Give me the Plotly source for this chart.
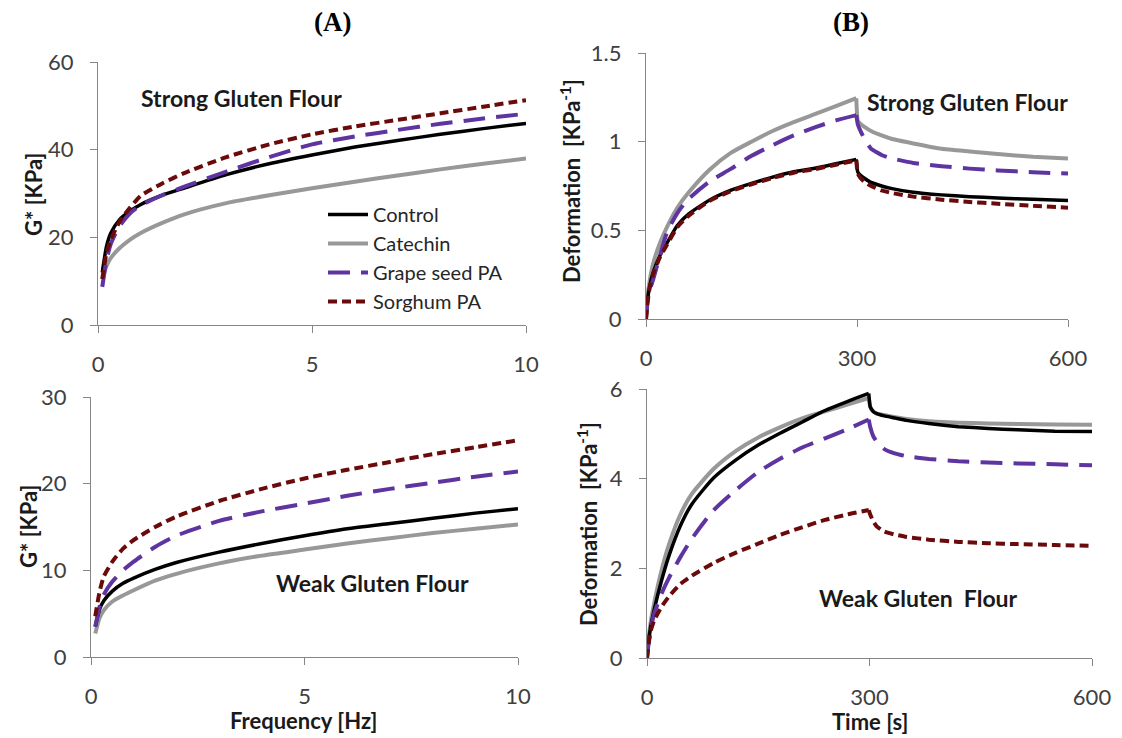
import plotly.graph_objects as go

# ---------------- data ----------------
freq = [0.1, 0.2, 0.3, 0.5, 0.75, 1, 1.5, 2, 3, 4, 5, 6, 7, 8, 9, 10]

strong_g_control = [12, 18, 21, 24, 26, 27.5, 29.6, 31.2, 34.3, 36.8, 38.8, 40.6, 42.1, 43.5, 44.8, 46.0]
strong_g_catechin = [10.5, 13.5, 15.3, 17.5, 19.5, 21, 23.3, 25.2, 27.8, 29.6, 31.2, 32.7, 34.1, 35.5, 36.8, 38.0]
strong_g_grape = [8.7, 14.8, 18.5, 22.5, 25.5, 27.3, 29.6, 31.5, 35.0, 38.3, 41.2, 43.0, 44.5, 45.9, 47.1, 48.2]
strong_g_sorghum = [10.5, 16.5, 19.5, 23.5, 26.8, 29.5, 32.3, 34.6, 38.3, 41.2, 43.5, 45.3, 46.8, 48.3, 49.8, 51.3]

weak_g_control = [3.5, 5.5, 6.5, 7.6, 8.5, 9.1, 10.1, 10.9, 12.1, 13.1, 14.0, 14.8, 15.4, 16.0, 16.6, 17.1]
weak_g_catechin = [2.7, 4.5, 5.4, 6.4, 7.1, 7.7, 8.8, 9.6, 10.8, 11.7, 12.4, 13.1, 13.7, 14.3, 14.8, 15.3]
weak_g_grape = [3.5, 5.8, 7.2, 8.7, 10.0, 11.0, 12.7, 14.0, 15.7, 16.8, 17.7, 18.6, 19.4, 20.1, 20.8, 21.4]
weak_g_sorghum = [4.7, 7.5, 9.3, 11.0, 12.5, 13.5, 15.0, 16.2, 18.0, 19.4, 20.6, 21.6, 22.5, 23.4, 24.2, 25.0]

time_s = [0, 2, 5, 10, 20, 30, 45, 60, 90, 120, 150, 180, 210, 240, 270, 299,
          301, 305, 310, 320, 335, 350, 380, 420, 460, 500, 550, 600]

strong_d_control = [0, 0.10, 0.18, 0.26, 0.36, 0.43, 0.53, 0.59, 0.67, 0.725, 0.765, 0.80, 0.83, 0.85, 0.875, 0.90,
                    0.83, 0.81, 0.795, 0.77, 0.75, 0.735, 0.715, 0.70, 0.69, 0.682, 0.675, 0.668]
strong_d_catechin = [0, 0.12, 0.21, 0.31, 0.43, 0.52, 0.63, 0.71, 0.84, 0.935, 1.0, 1.06, 1.11, 1.155, 1.20, 1.245,
                     1.12, 1.10, 1.085, 1.06, 1.035, 1.015, 0.99, 0.96, 0.945, 0.93, 0.915, 0.905]
strong_d_grape = [0, 0.09, 0.16, 0.22, 0.36, 0.49, 0.60, 0.675, 0.775, 0.845, 0.92, 0.98, 1.035, 1.08, 1.12, 1.15,
                  1.10, 1.06, 1.02, 0.96, 0.925, 0.905, 0.88, 0.862, 0.848, 0.838, 0.828, 0.82]
strong_d_sorghum = [0, 0.09, 0.17, 0.25, 0.35, 0.42, 0.52, 0.58, 0.665, 0.72, 0.76, 0.795, 0.825, 0.845, 0.87, 0.895,
                    0.82, 0.795, 0.775, 0.75, 0.725, 0.71, 0.69, 0.673, 0.66, 0.65, 0.638, 0.628]

weak_d_control = [0, 0.35, 0.7, 1.1, 1.75, 2.3, 2.95, 3.42, 4.02, 4.42, 4.75, 5.02, 5.27, 5.52, 5.72, 5.9,
                  5.6, 5.5, 5.45, 5.4, 5.35, 5.3, 5.23, 5.16, 5.12, 5.09, 5.06, 5.05]
weak_d_catechin = [0, 0.4, 0.8, 1.25, 1.98, 2.55, 3.2, 3.65, 4.22, 4.62, 4.92, 5.15, 5.35, 5.5, 5.65, 5.8,
                   5.6, 5.5, 5.45, 5.42, 5.37, 5.33, 5.28, 5.25, 5.23, 5.22, 5.21, 5.2]
weak_d_grape = [0, 0.3, 0.65, 1.0, 1.45, 1.8, 2.25, 2.65, 3.3, 3.75, 4.15, 4.45, 4.7, 4.9, 5.1, 5.32,
                5.15, 4.95, 4.82, 4.66, 4.56, 4.50, 4.44, 4.39, 4.36, 4.34, 4.32, 4.30]
weak_d_sorghum = [0, 0.3, 0.6, 0.85, 1.15, 1.38, 1.65, 1.83, 2.12, 2.35, 2.55, 2.75, 2.92, 3.08, 3.2, 3.3,
                  3.2, 3.05, 2.93, 2.82, 2.75, 2.70, 2.64, 2.59, 2.56, 2.54, 2.52, 2.50]

series_names = ["Control", "Catechin", "Grape seed PA", "Sorghum PA"]

# ---------------- styles ----------------
styles = [
    dict(color="#000000", width=3.5, dash="solid"),
    dict(color="#989898", width=4, dash="solid"),
    dict(color="#5E35A0", width=4, dash="22px,11px"),
    dict(color="#6B0A0A", width=4, dash="9px,5px"),
]

W, H = 1122, 738
FONT = "Lato, 'Open Sans', sans-serif"
TICKC = "#404040"
AXC = "#868686"


def px_x(p):
    return p / W


def px_y(p):
    return 1 - p / H


fig = go.Figure()

panels = [
    ("x", "y", freq, [strong_g_control, strong_g_catechin, strong_g_grape, strong_g_sorghum], False),
    ("x2", "y2", time_s, [strong_d_control, strong_d_catechin, strong_d_grape, strong_d_sorghum], True),
    ("x3", "y3", freq, [weak_g_control, weak_g_catechin, weak_g_grape, weak_g_sorghum], False),
    ("x4", "y4", time_s, [weak_d_control, weak_d_catechin, weak_d_grape, weak_d_sorghum], True),
]

peak_idx = time_s.index(299)

for pi, (xa, ya, xs, ser, creep) in enumerate(panels):
    for si in [1, 0, 2, 3]:
        line = dict(color=styles[si]["color"], width=styles[si]["width"], dash=styles[si]["dash"])
        if not creep:
            fig.add_trace(go.Scatter(
                x=xs, y=ser[si], xaxis=xa, yaxis=ya, mode="lines",
                name=series_names[si], legendrank=si + 1, legendgroup=series_names[si],
                line=dict(line, shape="spline", smoothing=0.6),
                showlegend=(pi == 0), hoverinfo="skip",
            ))
        else:
            # creep (loading) phase and recovery phase
            fig.add_trace(go.Scatter(
                x=xs[:peak_idx + 1], y=ser[si][:peak_idx + 1], xaxis=xa, yaxis=ya, mode="lines",
                name=series_names[si], legendgroup=series_names[si],
                line=dict(line, shape="spline", smoothing=0.6),
                showlegend=False, hoverinfo="skip",
            ))
            fig.add_trace(go.Scatter(
                x=xs[peak_idx:], y=ser[si][peak_idx:], xaxis=xa, yaxis=ya, mode="lines",
                name=series_names[si], legendgroup=series_names[si],
                line=dict(line, shape="spline", smoothing=0.4),
                showlegend=False, hoverinfo="skip",
            ))

common_axis = dict(
    showline=True, linecolor=AXC, linewidth=1.2, showgrid=False, zeroline=False,
    ticks="outside", ticklen=7, tickcolor=AXC, tickwidth=1.2, automargin=False,
    tickfont=dict(family=FONT, size=22, color=TICKC),
)

fig.update_layout(
    width=W, height=H, paper_bgcolor="white", plot_bgcolor="white",
    margin=dict(l=0, r=0, t=0, b=0, pad=0, autoexpand=False),
    showlegend=True,
    legend=dict(x=px_x(323), y=px_y(195), xanchor="left", yanchor="top",
                font=dict(family=FONT, size=20, color="#262626"), bgcolor="rgba(0,0,0,0)",
                tracegroupgap=0, itemwidth=40),
    xaxis=dict(domain=[px_x(98), px_x(526)], anchor="y", range=[0, 10], tickvals=[0, 5, 10],
               ticklabelstandoff=12, **common_axis),
    yaxis=dict(domain=[px_y(325), px_y(62)], anchor="x", range=[0, 60], tickvals=[0, 20, 40, 60],
               ticklabelstandoff=12, **common_axis),
    xaxis2=dict(domain=[px_x(646), px_x(1068)], anchor="y2", range=[0, 600], tickvals=[0, 300, 600],
                ticklabelstandoff=12, **common_axis),
    yaxis2=dict(domain=[px_y(319), px_y(53)], anchor="x2", range=[0, 1.5], tickvals=[0, 0.5, 1, 1.5],
                ticktext=["0", "0.5", "1", "1.5"], ticklabelstandoff=12, **common_axis),
    xaxis3=dict(domain=[px_x(91), px_x(518)], anchor="y3", range=[0, 10], tickvals=[0, 5, 10],
                ticklabelstandoff=12, **common_axis),
    yaxis3=dict(domain=[px_y(657), px_y(397)], anchor="x3", range=[0, 30], tickvals=[0, 10, 20, 30],
                ticklabelstandoff=12, **common_axis),
    xaxis4=dict(domain=[px_x(647), px_x(1092)], anchor="y4", range=[0, 600], tickvals=[0, 300, 600],
                ticklabelstandoff=12, **common_axis),
    yaxis4=dict(domain=[px_y(658), px_y(389)], anchor="x4", range=[0, 6], tickvals=[0, 2, 4, 6],
                ticklabelstandoff=12, **common_axis),
)


def ann(text, x, y, size=22, angle=0, family=FONT, color="#1a1a1a", xanchor="center"):
    fig.add_annotation(text=text, x=px_x(x), y=px_y(y), xref="paper", yref="paper",
                       showarrow=False, textangle=angle, xanchor=xanchor, yanchor="middle",
                       font=dict(family=family, size=size, color=color))


SERIF = "'Liberation Serif', 'Times New Roman', serif"
ann("<b>(A)</b>", 332, 22, size=27, family=SERIF, color="#000000")
ann("<b>(B)</b>", 851, 22, size=27, family=SERIF, color="#000000")

ann("<b>Strong Gluten Flour</b>", 241, 98, size=23)
ann("<b>Strong Gluten Flour</b>", 967, 102, size=23)
ann("<b>Weak Gluten Flour</b>", 372, 583, size=23)
ann("<b>Weak Gluten  Flour</b>", 918, 598, size=23)

ann("<b>G* [KPa]</b>", 34, 195, size=22, angle=-90)
ann("<b>G* [KPa]</b>", 28, 527, size=22, angle=-90)
ann("<b>Deformation  [KPa<sup>-1</sup>]</b>", 571, 181, size=22, angle=-90)
ann("<b>Deformation  [KPa<sup>-1</sup>]</b>", 587, 524, size=22, angle=-90)

ann("<b>Frequency [Hz]</b>", 303, 720, size=22)
ann("<b>Time [s]</b>", 870, 721, size=22)

fig.write_html("out.html", config={"displayModeBar": False},
               post_script="document.body.style.margin='0';document.body.style.overflow='hidden';")
